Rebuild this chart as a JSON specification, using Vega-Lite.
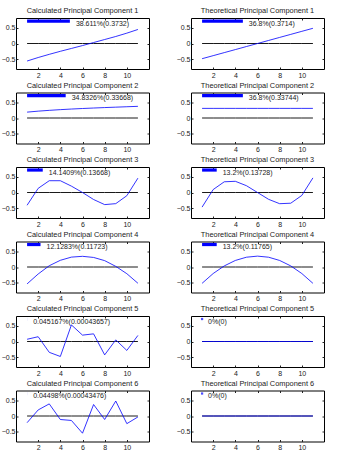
{
  "$schema": "https://vega.github.io/schema/vega-lite/v6.json",
  "padding": {"left": 0, "top": 6, "right": 0, "bottom": 0},
  "datasets": {
    "lines": [
      {"p":"Calculated Principal Component 1","o":1,"x":1,"y":-0.55},{"p":"Calculated Principal Component 1","o":1,"x":2,"y":-0.44},{"p":"Calculated Principal Component 1","o":1,"x":3,"y":-0.34},{"p":"Calculated Principal Component 1","o":1,"x":4,"y":-0.245},{"p":"Calculated Principal Component 1","o":1,"x":5,"y":-0.155},{"p":"Calculated Principal Component 1","o":1,"x":6,"y":-0.065},{"p":"Calculated Principal Component 1","o":1,"x":7,"y":0.03},{"p":"Calculated Principal Component 1","o":1,"x":8,"y":0.125},{"p":"Calculated Principal Component 1","o":1,"x":9,"y":0.22},{"p":"Calculated Principal Component 1","o":1,"x":10,"y":0.325},{"p":"Calculated Principal Component 1","o":1,"x":11,"y":0.44},
      {"p":"Theoretical Principal Component 1","o":2,"x":1,"y":-0.4767},{"p":"Theoretical Principal Component 1","o":2,"x":2,"y":-0.3814},{"p":"Theoretical Principal Component 1","o":2,"x":3,"y":-0.286},{"p":"Theoretical Principal Component 1","o":2,"x":4,"y":-0.1907},{"p":"Theoretical Principal Component 1","o":2,"x":5,"y":-0.0953},{"p":"Theoretical Principal Component 1","o":2,"x":6,"y":0},{"p":"Theoretical Principal Component 1","o":2,"x":7,"y":0.0953},{"p":"Theoretical Principal Component 1","o":2,"x":8,"y":0.1907},{"p":"Theoretical Principal Component 1","o":2,"x":9,"y":0.286},{"p":"Theoretical Principal Component 1","o":2,"x":10,"y":0.3814},{"p":"Theoretical Principal Component 1","o":2,"x":11,"y":0.4767},
      {"p":"Calculated Principal Component 2","o":3,"x":1,"y":0.184},{"p":"Calculated Principal Component 2","o":3,"x":2,"y":0.215},{"p":"Calculated Principal Component 2","o":3,"x":3,"y":0.24},{"p":"Calculated Principal Component 2","o":3,"x":4,"y":0.262},{"p":"Calculated Principal Component 2","o":3,"x":5,"y":0.281},{"p":"Calculated Principal Component 2","o":3,"x":6,"y":0.298},{"p":"Calculated Principal Component 2","o":3,"x":7,"y":0.313},{"p":"Calculated Principal Component 2","o":3,"x":8,"y":0.327},{"p":"Calculated Principal Component 2","o":3,"x":9,"y":0.34},{"p":"Calculated Principal Component 2","o":3,"x":10,"y":0.353},{"p":"Calculated Principal Component 2","o":3,"x":11,"y":0.366},
      {"p":"Theoretical Principal Component 2","o":4,"x":1,"y":0.3015},{"p":"Theoretical Principal Component 2","o":4,"x":2,"y":0.3015},{"p":"Theoretical Principal Component 2","o":4,"x":3,"y":0.3015},{"p":"Theoretical Principal Component 2","o":4,"x":4,"y":0.3015},{"p":"Theoretical Principal Component 2","o":4,"x":5,"y":0.3015},{"p":"Theoretical Principal Component 2","o":4,"x":6,"y":0.3015},{"p":"Theoretical Principal Component 2","o":4,"x":7,"y":0.3015},{"p":"Theoretical Principal Component 2","o":4,"x":8,"y":0.3015},{"p":"Theoretical Principal Component 2","o":4,"x":9,"y":0.3015},{"p":"Theoretical Principal Component 2","o":4,"x":10,"y":0.3015},{"p":"Theoretical Principal Component 2","o":4,"x":11,"y":0.3015},
      {"p":"Calculated Principal Component 3","o":5,"x":1,"y":-0.4},{"p":"Calculated Principal Component 3","o":5,"x":2,"y":0.13},{"p":"Calculated Principal Component 3","o":5,"x":3,"y":0.37},{"p":"Calculated Principal Component 3","o":5,"x":4,"y":0.37},{"p":"Calculated Principal Component 3","o":5,"x":5,"y":0.2},{"p":"Calculated Principal Component 3","o":5,"x":6,"y":0.0},{"p":"Calculated Principal Component 3","o":5,"x":7,"y":-0.22},{"p":"Calculated Principal Component 3","o":5,"x":8,"y":-0.38},{"p":"Calculated Principal Component 3","o":5,"x":9,"y":-0.35},{"p":"Calculated Principal Component 3","o":5,"x":10,"y":-0.1},{"p":"Calculated Principal Component 3","o":5,"x":11,"y":0.45},
      {"p":"Theoretical Principal Component 3","o":6,"x":1,"y":-0.458},{"p":"Theoretical Principal Component 3","o":6,"x":2,"y":0.092},{"p":"Theoretical Principal Component 3","o":6,"x":3,"y":0.336},{"p":"Theoretical Principal Component 3","o":6,"x":4,"y":0.351},{"p":"Theoretical Principal Component 3","o":6,"x":5,"y":0.214},{"p":"Theoretical Principal Component 3","o":6,"x":6,"y":0},{"p":"Theoretical Principal Component 3","o":6,"x":7,"y":-0.214},{"p":"Theoretical Principal Component 3","o":6,"x":8,"y":-0.351},{"p":"Theoretical Principal Component 3","o":6,"x":9,"y":-0.336},{"p":"Theoretical Principal Component 3","o":6,"x":10,"y":-0.092},{"p":"Theoretical Principal Component 3","o":6,"x":11,"y":0.458},
      {"p":"Calculated Principal Component 4","o":7,"x":1,"y":-0.53},{"p":"Calculated Principal Component 4","o":7,"x":2,"y":-0.22},{"p":"Calculated Principal Component 4","o":7,"x":3,"y":0.04},{"p":"Calculated Principal Component 4","o":7,"x":4,"y":0.21},{"p":"Calculated Principal Component 4","o":7,"x":5,"y":0.31},{"p":"Calculated Principal Component 4","o":7,"x":6,"y":0.335},{"p":"Calculated Principal Component 4","o":7,"x":7,"y":0.3},{"p":"Calculated Principal Component 4","o":7,"x":8,"y":0.2},{"p":"Calculated Principal Component 4","o":7,"x":9,"y":0.02},{"p":"Calculated Principal Component 4","o":7,"x":10,"y":-0.21},{"p":"Calculated Principal Component 4","o":7,"x":11,"y":-0.51},
      {"p":"Theoretical Principal Component 4","o":8,"x":1,"y":-0.512},{"p":"Theoretical Principal Component 4","o":8,"x":2,"y":-0.205},{"p":"Theoretical Principal Component 4","o":8,"x":3,"y":0.034},{"p":"Theoretical Principal Component 4","o":8,"x":4,"y":0.205},{"p":"Theoretical Principal Component 4","o":8,"x":5,"y":0.307},{"p":"Theoretical Principal Component 4","o":8,"x":6,"y":0.341},{"p":"Theoretical Principal Component 4","o":8,"x":7,"y":0.307},{"p":"Theoretical Principal Component 4","o":8,"x":8,"y":0.205},{"p":"Theoretical Principal Component 4","o":8,"x":9,"y":0.034},{"p":"Theoretical Principal Component 4","o":8,"x":10,"y":-0.205},{"p":"Theoretical Principal Component 4","o":8,"x":11,"y":-0.512},
      {"p":"Calculated Principal Component 5","o":9,"x":1,"y":0.07},{"p":"Calculated Principal Component 5","o":9,"x":2,"y":0.15},{"p":"Calculated Principal Component 5","o":9,"x":3,"y":-0.34},{"p":"Calculated Principal Component 5","o":9,"x":4,"y":-0.47},{"p":"Calculated Principal Component 5","o":9,"x":5,"y":0.52},{"p":"Calculated Principal Component 5","o":9,"x":6,"y":0.2},{"p":"Calculated Principal Component 5","o":9,"x":7,"y":0.24},{"p":"Calculated Principal Component 5","o":9,"x":8,"y":-0.42},{"p":"Calculated Principal Component 5","o":9,"x":9,"y":0.05},{"p":"Calculated Principal Component 5","o":9,"x":10,"y":-0.28},{"p":"Calculated Principal Component 5","o":9,"x":11,"y":0.19},
      {"p":"Theoretical Principal Component 5","o":10,"x":1,"y":0},{"p":"Theoretical Principal Component 5","o":10,"x":2,"y":0},{"p":"Theoretical Principal Component 5","o":10,"x":3,"y":0},{"p":"Theoretical Principal Component 5","o":10,"x":4,"y":0},{"p":"Theoretical Principal Component 5","o":10,"x":5,"y":0},{"p":"Theoretical Principal Component 5","o":10,"x":6,"y":0},{"p":"Theoretical Principal Component 5","o":10,"x":7,"y":0},{"p":"Theoretical Principal Component 5","o":10,"x":8,"y":0},{"p":"Theoretical Principal Component 5","o":10,"x":9,"y":0},{"p":"Theoretical Principal Component 5","o":10,"x":10,"y":0},{"p":"Theoretical Principal Component 5","o":10,"x":11,"y":0},
      {"p":"Calculated Principal Component 6","o":11,"x":1,"y":-0.21},{"p":"Calculated Principal Component 6","o":11,"x":2,"y":0.19},{"p":"Calculated Principal Component 6","o":11,"x":3,"y":0.38},{"p":"Calculated Principal Component 6","o":11,"x":4,"y":-0.11},{"p":"Calculated Principal Component 6","o":11,"x":5,"y":-0.14},{"p":"Calculated Principal Component 6","o":11,"x":6,"y":-0.54},{"p":"Calculated Principal Component 6","o":11,"x":7,"y":0.36},{"p":"Calculated Principal Component 6","o":11,"x":8,"y":-0.11},{"p":"Calculated Principal Component 6","o":11,"x":9,"y":0.47},{"p":"Calculated Principal Component 6","o":11,"x":10,"y":-0.24},{"p":"Calculated Principal Component 6","o":11,"x":11,"y":-0.03},
      {"p":"Theoretical Principal Component 6","o":12,"x":1,"y":0},{"p":"Theoretical Principal Component 6","o":12,"x":2,"y":0},{"p":"Theoretical Principal Component 6","o":12,"x":3,"y":0},{"p":"Theoretical Principal Component 6","o":12,"x":4,"y":0},{"p":"Theoretical Principal Component 6","o":12,"x":5,"y":0},{"p":"Theoretical Principal Component 6","o":12,"x":6,"y":0},{"p":"Theoretical Principal Component 6","o":12,"x":7,"y":0},{"p":"Theoretical Principal Component 6","o":12,"x":8,"y":0},{"p":"Theoretical Principal Component 6","o":12,"x":9,"y":0},{"p":"Theoretical Principal Component 6","o":12,"x":10,"y":0},{"p":"Theoretical Principal Component 6","o":12,"x":11,"y":0}
    ],
    "shares": [
      {"p":"Calculated Principal Component 1","pct":38.611,"label":"38.611%(0.3732)"},
      {"p":"Theoretical Principal Component 1","pct":36.8,"label":"36.8%(0.3714)"},
      {"p":"Calculated Principal Component 2","pct":34.8326,"label":"34.8326%(0.33668)"},
      {"p":"Theoretical Principal Component 2","pct":36.8,"label":"36.8%(0.33744)"},
      {"p":"Calculated Principal Component 3","pct":14.1409,"label":"14.1409%(0.13668)"},
      {"p":"Theoretical Principal Component 3","pct":13.2,"label":"13.2%(0.13728)"},
      {"p":"Calculated Principal Component 4","pct":12.1283,"label":"12.1283%(0.11723)"},
      {"p":"Theoretical Principal Component 4","pct":13.2,"label":"13.2%(0.11765)"},
      {"p":"Calculated Principal Component 5","pct":0.045167,"label":"0.045167%(0.00043657)"},
      {"p":"Theoretical Principal Component 5","pct":0,"label":"0%(0)"},
      {"p":"Calculated Principal Component 6","pct":0.04498,"label":"0.04498%(0.00043476)"},
      {"p":"Theoretical Principal Component 6","pct":0,"label":"0%(0)"}
    ]
  },
  "data": {"name": "lines"},
  "transform": [
    {"lookup": "p", "from": {"data": {"name": "shares"}, "key": "p", "fields": ["pct", "label"]}},
    {"calculate": "1 + datum.pct / 10", "as": "xe"}
  ],
  "facet": {
    "field": "p", "type": "nominal", "sort": {"field": "o", "op": "min"},
    "header": {"title": null, "labelFontSize": 7.4, "labelFont": "Liberation Sans", "labelColor": "#222", "labelPadding": 3}
  },
  "columns": 2,
  "spacing": {"column": 25, "row": 1.5},
  "resolve": {"axis": {"x": "independent", "y": "independent"}},
  "spec": {
    "width": 133,
    "height": 51,
    "resolve": {"axis": {"x": "independent", "y": "independent"}},
    "layer": [
      {
        "mark": {"type": "line", "color": "#1a1a1a", "strokeWidth": 1},
        "encoding": {
          "x": {"field": "x", "type": "quantitative", "scale": {"domain": [0.5, 11.5]},
                "axis": {"values": [2, 4, 6, 8, 10], "tickCount": 20, "format": "d", "title": null, "labelPadding": 4, "labelOverlap": false}},
          "y": {"datum": 0, "type": "quantitative", "scale": {"domain": [-0.75, 0.75]},
                "axis": {"values": [-0.5, 0, 0.5], "tickCount": 20, "format": "~g", "title": null, "labelPadding": 3, "labelOverlap": false}}
        }
      },
      {
        "mark": {"type": "line", "color": "#0000ff", "strokeWidth": 0.8},
        "encoding": {
          "x": {"field": "x", "type": "quantitative",
                "axis": {"orient": "top", "values": [2, 4, 6, 8, 10], "tickCount": 20, "labels": false, "title": null}},
          "y": {"field": "y", "type": "quantitative",
                "axis": {"orient": "right", "values": [-0.5, 0, 0.5], "tickCount": 20, "labels": false, "title": null}}
        }
      },
      {
        "transform": [{"filter": "datum.x === 1"}],
        "mark": {"type": "rule", "color": "#0000ff", "strokeWidth": 3.2},
        "encoding": {"x": {"field": "x", "type": "quantitative", "axis": null}, "x2": {"field": "xe"}, "y": {"datum": 0.705, "type": "quantitative", "axis": null}}
      },
      {
        "transform": [{"filter": "datum.x === 1 && datum.pct === 0"}],
        "mark": {"type": "square", "color": "#0000ff", "filled": true, "size": 5},
        "encoding": {"x": {"field": "x", "type": "quantitative", "axis": null}, "y": {"datum": 0.705, "type": "quantitative", "axis": null}}
      },
      {
        "transform": [{"filter": "datum.x === 1"}],
        "mark": {"type": "text", "align": "left", "baseline": "middle", "dx": 6, "fontSize": 7, "font": "Liberation Sans", "color": "#222"},
        "encoding": {"x": {"field": "xe", "type": "quantitative", "axis": null}, "y": {"datum": 0.62, "type": "quantitative", "axis": null}, "text": {"field": "label"}}
      }
    ]
  },
  "config": {
    "font": "Liberation Sans",
    "view": {"stroke": "black", "strokeWidth": 1},
    "axis": {"grid": false, "domain": false, "tickSize": -2, "tickColor": "#222", "labelFontSize": 7, "labelColor": "#222", "labelOverlap": false, "labelFont": "Liberation Sans"}
  }
}
